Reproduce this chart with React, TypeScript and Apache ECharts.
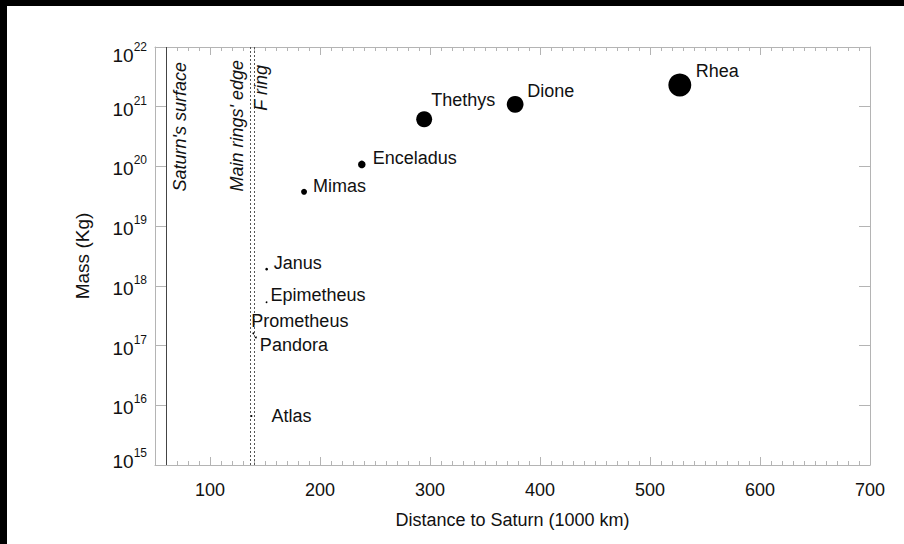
import React, { useEffect, useRef } from 'react';
import * as echarts from 'echarts';

// ---- data ----
const moonNames = ['Mimas', 'Enceladus', 'Thethys', 'Dione', 'Rhea', 'Janus', 'Epimetheus', 'Prometheus', 'Pandora', 'Atlas'];
const distances = [185.5, 238.0, 294.7, 377.4, 527.1, 151.5, 151.4, 139.4, 141.7, 137.7]; // 1000 km
const masses = [3.75e19, 1.08e20, 6.17e20, 1.095e21, 2.31e21, 1.9e18, 5.3e17, 1.6e17, 1.37e17, 6.6e15]; // kg
const radiiKm = [198, 252, 531, 561, 764, 89, 58, 43, 41, 15];
const refNames = ["Saturn's surface", "Main rings' edge", 'F ring'];
const refDistances = [60.27, 136.8, 140.2];
const xTickValues = [100, 200, 300, 400, 500, 600, 700];
const xMin = 50;
const xMax = 700;
const yMin = 1e15;
const yMax = 1e22;

const FONT = '"Liberation Sans", Arial, Helvetica, sans-serif';
const AXIS_GRAY = '#b4b4b4';
const TEXT = '#111111';

export default function App() {
  const ref = useRef<HTMLDivElement>(null);
  useEffect(() => {
    if (!ref.current) return;
    const chart = echarts.init(ref.current, undefined, { renderer: 'svg' });

    // label offsets (px) of each moon label's left-middle from its marker centre
    const labelOffsets: [number, number][] = [
      [9, -6], [11, -6], [7, -19], [12, -13], [16, -14],
      [7, -6], [4, -7], [-2, -12], [4, 8], [20, 0],
    ];
    const refLabelPos = ['insideEndBottom', 'insideEndTop', 'insideEndBottom'];
    const refLabelDist: [number, number][] = [[15, 5], [13, 4], [18, -2]];

    const gridRect = { left: 155, top: 47, width: 715, height: 418 };

    const minorX = (position: 'bottom' | 'top', gridIndex: number) => ({
      type: 'value', gridIndex, position, min: xMin, max: xMax, interval: 10,
      axisLine: { show: true, onZero: false, lineStyle: { color: AXIS_GRAY, width: 1 } },
      axisTick: { show: true, inside: true, length: 4, lineStyle: { color: AXIS_GRAY } },
      axisLabel: { show: false },
      splitLine: { show: false },
    });
    const majorX = (position: 'bottom' | 'top', gridIndex: number, withLabels: boolean) => ({
      type: 'value', gridIndex, position, min: xMin, max: xMax, interval: 10,
      axisLine: { show: false },
      axisTick: { show: true, inside: true, length: 8, customValues: xTickValues, lineStyle: { color: AXIS_GRAY } },
      axisLabel: withLabels
        ? { show: true, customValues: xTickValues, fontSize: 18, color: TEXT, fontFamily: FONT, margin: 16 }
        : { show: false },
      splitLine: { show: false },
      name: withLabels ? 'Distance to Saturn (1000 km)' : '',
      nameLocation: 'middle',
      nameGap: 46,
      nameTextStyle: { fontSize: 18, color: TEXT, fontFamily: FONT },
    });
    const logY = (position: 'left' | 'right', gridIndex: number, withLabels: boolean, show = true) => ({
      type: 'log', logBase: 10, gridIndex, position, min: yMin, max: yMax, interval: 1, splitNumber: 7, show,
      axisLine: { show: true, onZero: false, lineStyle: { color: AXIS_GRAY, width: 1 } },
      axisTick: { show: true, inside: true, length: 11, lineStyle: { color: AXIS_GRAY } },
      axisLabel: withLabels
        ? {
            show: true,
            margin: 8,
            fontSize: 12,
            lineHeight: 12,
            formatter: (v: number) => {
              const e = Math.round(Math.log10(v));
              const core = '{b|10}{s|' + e + '}';
              if (v >= yMax * 0.99) return '\n' + core;
              if (v <= yMin * 1.01) return core + '\n';
              return core;
            },
            rich: {
              b: { fontSize: 19, lineHeight: 24, verticalAlign: 'bottom', color: TEXT, fontFamily: FONT },
              s: { fontSize: 12, lineHeight: 12, verticalAlign: 'top', color: TEXT, fontFamily: FONT },
            },
          }
        : { show: false },
      splitLine: { show: false },
      name: withLabels ? 'Mass (Kg)' : '',
      nameLocation: 'middle',
      nameRotate: 90,
      nameGap: 63,
      nameTextStyle: { fontSize: 19, color: TEXT, fontFamily: FONT },
    });

    chart.setOption({
      animation: false,
      backgroundColor: '#ffffff',
      textStyle: { fontFamily: FONT },
      graphic: [
        { type: 'rect', left: 0, top: 0, shape: { width: 904, height: 6 }, style: { fill: '#000' }, silent: true, z: 100 },
        { type: 'rect', left: 0, top: 0, shape: { width: 7, height: 544 }, style: { fill: '#000' }, silent: true, z: 100 },
      ],
      grid: [
        { ...gridRect, containLabel: false },
        { ...gridRect, containLabel: false },
      ],
      xAxis: [minorX('bottom', 0), minorX('top', 0), majorX('bottom', 1, true), majorX('top', 1, false)],
      yAxis: [logY('left', 0, true), logY('right', 0, false), logY('left', 1, false, false)],
      series: [
        {
          type: 'scatter',
          xAxisIndex: 0,
          yAxisIndex: 0,
          symbol: 'circle',
          itemStyle: { color: '#000000', opacity: 1 },
          emphasis: { disabled: true },
          data: moonNames.map((n, i) => {
            const size = Math.max(radiiKm[i] * 0.03, 1.8);
            const [dx, dy] = labelOffsets[i];
            return {
              name: n,
              value: [distances[i], masses[i]],
              symbolSize: size,
              label: {
                show: true,
                position: 'right',
                distance: 0,
                offset: [dx - size / 2, dy],
                formatter: '{b}',
                fontSize: 18,
                color: TEXT,
                fontFamily: FONT,
              },
            };
          }),
          markLine: {
            silent: true,
            symbol: ['none', 'none'],
            animation: false,
            data: refDistances.map((d, i) => ({
              xAxis: d,
              lineStyle: {
                color: i === 0 ? '#444444' : '#555555',
                width: 1,
                type: i === 0 ? 'solid' : [2, 2],
              },
              label: {
                show: true,
                formatter: refNames[i],
                position: refLabelPos[i],
                distance: refLabelDist[i],
                fontSize: 18,
                fontStyle: 'italic',
                color: TEXT,
                fontFamily: FONT,
              },
            })),
          },
        },
      ],
    });
    return () => chart.dispose();
  }, []);

  return (
    <div style={{ position: 'fixed', left: 0, top: 0, width: 904, height: 544, background: '#000' }}>
      <div ref={ref} style={{ width: 904, height: 544 }} />
    </div>
  );
}
